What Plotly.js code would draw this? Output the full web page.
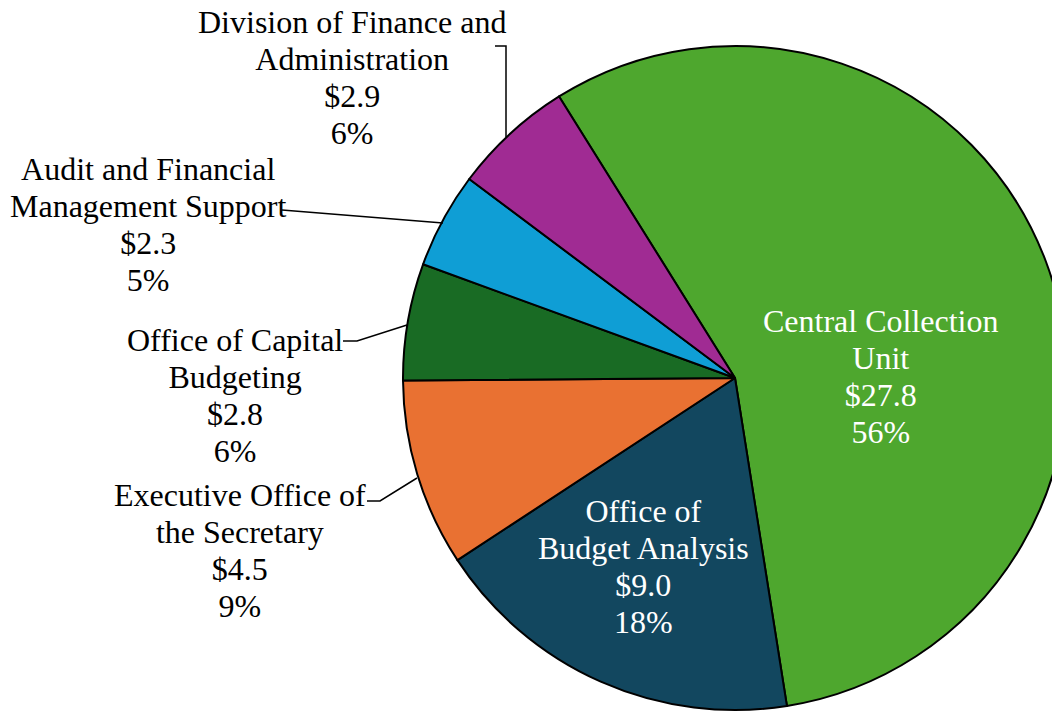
<!DOCTYPE html>
<html>
<head>
<meta charset="utf-8">
<script src="https://cdn.plot.ly/plotly-3.0.1.min.js"></script>
<style>
  html, body { margin: 0; padding: 0; overflow: hidden; background: #ffffff; }
  #chart { width: 1100px; height: 760px; }
</style>
</head>
<body>
<div id="chart"></div>
<script>
// Budget by unit ($ millions)
const units = [
  "Central Collection<br>Unit",
  "Office of<br>Budget Analysis",
  "Executive Office of<br>the Secretary",
  "Office of Capital<br>Budgeting",
  "Audit and Financial<br>Management Support",
  "Division of Finance and<br>Administration"
];
const amounts = [27.8, 9.0, 4.5, 2.8, 2.3, 2.9];
const sliceColors = ["#4EA72E", "#12475F", "#E97132", "#196B24", "#0F9ED5", "#A02B93"];

// Label placement (pixels in the drawing area) and text colour per slice
const labelPos = [[881, 376], [643, 566], [240, 550], [235, 396], [148, 225], [352, 78]];
const labelColor = ["#ffffff", "#ffffff", "#000000", "#000000", "#000000", "#000000"];

// Leader lines from the outside labels to their slices
const leaders = [
  null,
  null,
  [[367, 501], [380, 501], [417, 478]],
  [[343, 341], [357, 341], [407, 325]],
  [[282, 210], [443, 223]],
  [[495, 46], [506, 46], [506, 137]]
];

const W = 1100, H = 760;
const fx = x => x / W;
const fy = y => 1 - y / H;

const total = amounts.reduce((a, b) => a + b, 0);
const serif = '"Liberation Serif", "Times New Roman", "DejaVu Serif", serif';

// Base size sets the line pitch (1.3 x 28.5 ≈ 37px); glyphs are drawn at 32px
const lineSize = 28.5, glyphSize = 32;

const annotations = units.map((u, i) => ({
  xref: "paper", yref: "paper",
  x: fx(labelPos[i][0]), y: fy(labelPos[i][1]),
  xanchor: "center", yanchor: "middle",
  showarrow: false,
  align: "center",
  text: [u, "$" + amounts[i].toFixed(1), Math.round(amounts[i] / total * 100) + "%"]
    .join("<br>").split("<br>")
    .map(line => '<span style="font-size:' + glyphSize + 'px">' + line + '</span>')
    .join("<br>"),
  font: { family: serif, size: lineSize, color: labelColor[i] }
}));

const shapes = leaders.filter(l => l).map(pts => ({
  type: "path",
  xref: "paper", yref: "paper",
  path: pts.map((p, k) => (k ? "L" : "M") + fx(p[0]) + "," + fy(p[1])).join(" "),
  line: { color: "#000000", width: 1.5 }
}));

const trace = {
  type: "pie",
  labels: units,
  values: amounts,
  sort: false,
  direction: "clockwise",
  rotation: -32,
  textinfo: "none",
  hoverinfo: "label+value+percent",
  marker: { colors: sliceColors, line: { color: "#000000", width: 2 } },
  domain: { x: [403 / W, 1067 / W], y: [50 / H, 714 / H] }
};

Plotly.newPlot("chart", [trace], {
  width: W, height: H,
  margin: { l: 0, r: 0, t: 0, b: 0 },
  showlegend: false,
  paper_bgcolor: "#ffffff",
  font: { family: serif },
  annotations: annotations,
  shapes: shapes
}, { displayModeBar: false, staticPlot: true });
</script>
</body>
</html>
